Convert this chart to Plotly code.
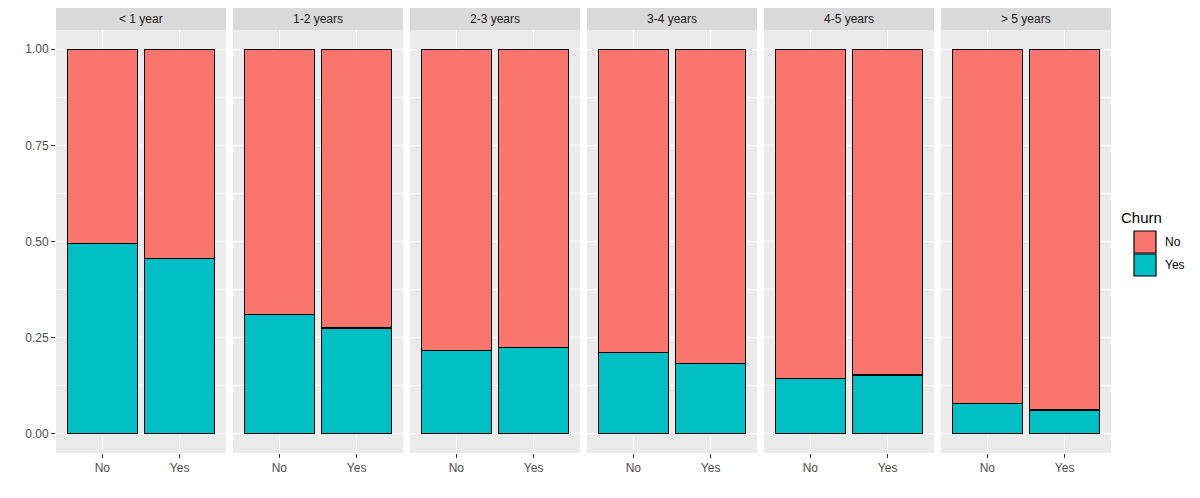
import plotly.graph_objects as go
from plotly.subplots import make_subplots

# ---- data ----
panels = ["< 1 year", "1-2 years", "2-3 years", "3-4 years", "4-5 years", "> 5 years"]
categories = ["No", "Yes"]
# share of Churn == "Yes" within each bar (position = fill)
yes_share = [
    [0.495, 0.456],
    [0.310, 0.275],
    [0.216, 0.224],
    [0.211, 0.182],
    [0.143, 0.153],
    [0.078, 0.062],
]
# share of Churn == "No" within each bar
no_share = [
    [0.505, 0.544],
    [0.690, 0.725],
    [0.784, 0.776],
    [0.789, 0.818],
    [0.857, 0.847],
    [0.922, 0.938],
]
y_ticks = [0.0, 0.25, 0.5, 0.75, 1.0]
y_ticklabels = ["0.00", "0.25", "0.50", "0.75", "1.00"]
legend_title = "Churn"
legend_labels = ["No", "Yes"]

COL_NO = "#F8766D"
COL_YES = "#00BFC4"
FONT = "Liberation Sans, Arial, sans-serif"

# page body has an 8px margin -> shrink figure accordingly
OFF = 8
W, H = 1200 - OFF, 498 - OFF
ML, MR, MT, MB = 56 - OFF, 89, 30 - OFF, 45
PW = W - ML - MR
PH = H - MT - MB

n = len(panels)
fig = make_subplots(rows=1, cols=n, shared_yaxes=True,
                    horizontal_spacing=7 / PW)

for i in range(n):
    fig.add_trace(go.Bar(x=categories, y=yes_share[i], name="Yes",
                         marker=dict(color=COL_YES, line=dict(color="black", width=1.2)),
                         width=0.9, showlegend=False), row=1, col=i + 1)
    fig.add_trace(go.Bar(x=categories, y=no_share[i], name="No",
                         marker=dict(color=COL_NO, line=dict(color="black", width=1.2)),
                         width=0.9, showlegend=False), row=1, col=i + 1)

fig.update_layout(
    barmode="stack",
    width=W, height=H,
    margin=dict(l=ML, r=MR, t=MT, b=MB, pad=0),
    plot_bgcolor="#EBEBEB",
    paper_bgcolor="white",
    font=dict(family=FONT, size=12, color="#4D4D4D"),
    showlegend=False,
)

fig.update_xaxes(type="category", categoryorder="array", categoryarray=categories,
                 range=[-0.6, 1.6], showgrid=True, gridcolor="white", gridwidth=1.3,
                 ticks="outside", ticklen=4, tickcolor="#333333", tickwidth=1,
                 tickfont=dict(family=FONT, size=12, color="#4D4D4D"),
                 zeroline=False, showline=False, fixedrange=True)
fig.update_yaxes(range=[-0.05, 1.05], tickvals=y_ticks, ticktext=y_ticklabels,
                 showgrid=True, gridcolor="white", gridwidth=1.3,
                 minor=dict(tickvals=[0.125, 0.375, 0.625, 0.875], showgrid=True,
                            gridcolor="white", gridwidth=0.6, ticks=""),
                 zeroline=False, showline=False, fixedrange=True)
fig.update_yaxes(ticks="outside", ticklen=4, tickcolor="#333333", tickwidth=1,
                 tickfont=dict(family=FONT, size=12, color="#4D4D4D"),
                 row=1, col=1)
for i in range(2, n + 1):
    fig.update_yaxes(showticklabels=False, ticks="", row=1, col=i)

# facet strips
strip_h = 23 / PH
for i in range(n):
    xref = "x domain" if i == 0 else f"x{i + 1} domain"
    fig.add_shape(type="rect", xref=xref, yref="paper", x0=0, x1=1,
                  y0=1, y1=1 + strip_h, fillcolor="#D9D9D9", line=dict(width=0),
                  layer="below")
    fig.add_annotation(xref=xref, yref="paper", x=0.5, y=1 + strip_h / 2,
                       text=panels[i], showarrow=False,
                       font=dict(family=FONT, size=12, color="#1A1A1A"),
                       xanchor="center", yanchor="middle")

# legend (ggplot-style keys); positions given in page pixels
def px_x(px):
    return (px - OFF - ML) / PW

def px_y(py):
    return (OFF + H - MB - py) / PH

fig.add_annotation(xref="paper", yref="paper", x=px_x(1119), y=px_y(217),
                   text=legend_title, showarrow=False, xanchor="left", yanchor="middle",
                   font=dict(family=FONT, size=15, color="black"))
key_rows = [(231, 253), (254, 276)]
key_cols = [COL_NO, COL_YES]
for (t, b), c, lab in zip(key_rows, key_cols, legend_labels):
    fig.add_shape(type="rect", xref="paper", yref="paper",
                  x0=px_x(1134), x1=px_x(1156), y0=px_y(b), y1=px_y(t),
                  fillcolor=c, line=dict(color="black", width=1.2))
    fig.add_annotation(xref="paper", yref="paper", x=px_x(1163), y=px_y((t + b) / 2),
                       text=lab, showarrow=False, xanchor="left", yanchor="middle",
                       font=dict(family=FONT, size=12, color="black"))

fig.write_html("out.html")
